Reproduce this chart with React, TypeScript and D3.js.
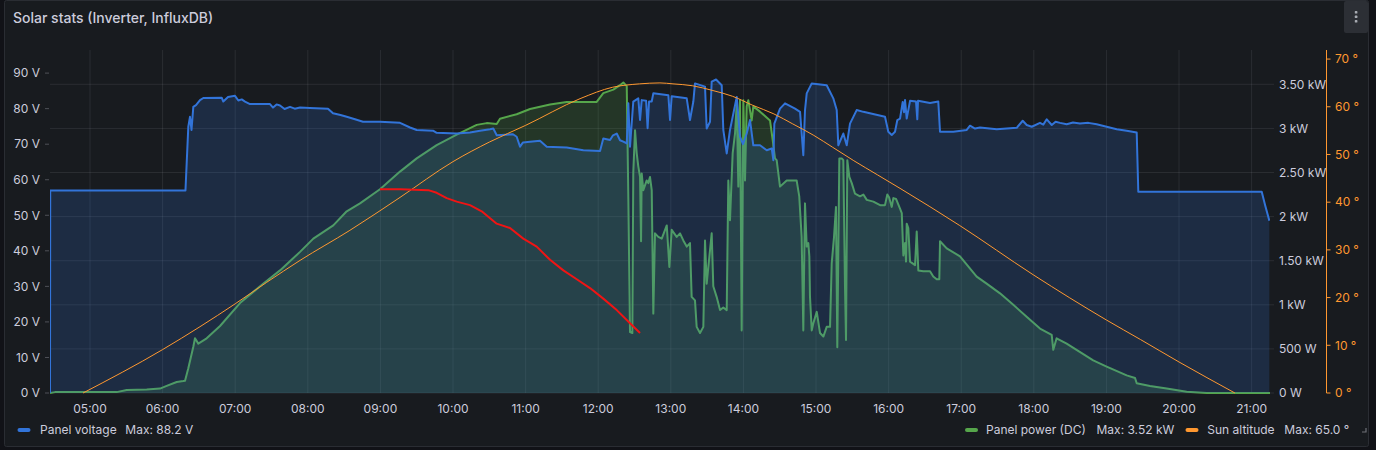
import React, { useEffect } from "react";
import * as d3 from "d3";

// [hour of day, volts]
const panelVoltage: [number, number][] = [
  [4.449, 0], [4.452, 57.0], [6.315, 57.0], [6.354, 74.9], [6.377, 77.7], [6.398, 74.0], [6.423, 80.5],
  [6.46, 81.0], [6.515, 82.4], [6.561, 83.0], [6.814, 83.1], [6.836, 82.0], [6.901, 83.3], [6.997, 83.6],
  [7.043, 82.3], [7.09, 82.6], [7.135, 82.0], [7.204, 81.3], [7.479, 81.3], [7.521, 80.3], [7.57, 81.2], [7.617, 80.9],
  [7.68, 79.9], [7.755, 80.5], [7.82, 80.0], [7.893, 80.3], [8.03, 80.2], [8.278, 80.0], [8.347, 78.7], [8.45, 78.2],
  [8.536, 77.7], [8.65, 77.0], [8.76, 76.3], [8.994, 76.3], [9.27, 76.0], [9.408, 74.7], [9.5, 74.0], [9.725, 73.8],
  [9.775, 73.2], [10.051, 73.0], [10.234, 73.3], [10.372, 73.8], [10.51, 74.2], [10.555, 74.4], [10.602, 72.5],
  [10.826, 72.8], [10.877, 72.1],
  [10.923, 69.3], [10.964, 70.5], [11.061, 70.7], [11.198, 71.0], [11.291, 69.3], [11.566, 69.1], [11.795, 68.3],
  [12.025, 68.1], [12.07, 71.6], [12.163, 71.2], [12.204, 72.5], [12.255, 73.0], [12.3, 71.1], [12.346, 70.7],
  [12.393, 70.2], [12.415, 81.5], [12.438, 69.3], [12.483, 82.0], [12.552, 82.9], [12.576, 76.8], [12.599, 82.4],
  [12.66, 82.2], [12.68, 74.5], [12.70, 82.0], [12.737, 82.0], [12.759, 84.3], [12.966, 83.8], [12.989, 76.8],
  [13.012, 83.5], [13.219, 82.9], [13.264, 76.8], [13.31, 82.0], [13.333, 87.1], [13.471, 86.2], [13.494, 74.4],
  [13.54, 76.3], [13.563, 87.6], [13.623, 88.2], [13.701, 86.6], [13.723, 74.0], [13.77, 67.4], [13.815, 74.0],
  [13.908, 83.3], [13.953, 72.1], [13.994, 70.0], [14.045, 73.0], [14.091, 76.8], [14.136, 69.7], [14.229, 69.7],
  [14.321, 68.3], [14.39, 68.8], [14.412, 65.5], [14.426, 75.8], [14.504, 80.0], [14.573, 81.5], [14.711, 80.0],
  [14.78, 79.1], [14.825, 66.9], [14.848, 79.5], [14.872, 84.3], [14.941, 87.1], [15.147, 86.6], [15.238, 82.9],
  [15.285, 79.6], [15.307, 69.7], [15.376, 73.0], [15.423, 69.7], [15.468, 75.8], [15.56, 79.6], [15.652, 79.1],
  [15.95, 77.7], [15.996, 73.5], [16.043, 72.6], [16.088, 73.5], [16.12, 76.8], [16.157, 77.2], [16.194, 81.9],
  [16.212, 79.0], [16.226, 82.4], [16.249, 77.2], [16.295, 82.2], [16.377, 82.0], [16.395, 77.0], [16.405, 82.2],
  [16.57, 81.6], [16.684, 82.0], [16.708, 73.5], [16.891, 73.5], [17.076, 74.0], [17.121, 75.2], [17.19, 74.4],
  [17.259, 74.7], [17.489, 74.2], [17.764, 74.6], [17.847, 76.6], [17.902, 75.4], [17.971, 74.9], [18.085, 76.0],
  [18.13, 75.5], [18.178, 77.0], [18.247, 75.4], [18.3, 76.3], [18.361, 76.0], [18.453, 75.6], [18.54, 76.1],
  [18.636, 75.8], [18.751, 76.0], [18.866, 75.6],
  [19.004, 74.9], [19.142, 74.2], [19.279, 73.8], [19.417, 73.3], [19.439, 56.6], [21.139, 56.6], [21.185, 52.9],
  [21.244, 48.5],
];

// [hour of day, kW]
const panelPower: [number, number][] = [
  [4.449, 0], [4.518, 0.01], [4.904, 0.01], [5.368, 0.01], [5.506, 0.035], [5.781, 0.04], [5.964, 0.05],
  [6.056, 0.08], [6.194, 0.125], [6.285, 0.136], [6.309, 0.14], [6.354, 0.28], [6.423, 0.525], [6.446, 0.62],
  [6.492, 0.56], [6.607, 0.62], [6.791, 0.76], [7.066, 1.02], [7.342, 1.21], [7.617, 1.39], [7.893, 1.6],
  [8.076, 1.75], [8.351, 1.9], [8.536, 2.06], [8.719, 2.15], [8.994, 2.31], [9.27, 2.51], [9.5, 2.66],
  [9.775, 2.81], [10.051, 2.93], [10.326, 3.04], [10.464, 3.06], [10.602, 3.05], [10.647, 3.11], [10.877, 3.16],
  [11.061, 3.22], [11.336, 3.27], [11.566, 3.3], [11.979, 3.3], [12.07, 3.4], [12.208, 3.44], [12.3, 3.49],
  [12.346, 3.52], [12.393, 3.48], [12.415, 2.2], [12.438, 0.69], [12.47, 0.68], [12.483, 2.5], [12.507, 2.98],
  [12.53, 2.72], [12.552, 2.57], [12.576, 2.45], [12.59, 1.72], [12.599, 2.49], [12.621, 2.3], [12.668, 2.41],
  [12.69, 2.38], [12.713, 2.45], [12.737, 2.3], [12.759, 0.9], [12.782, 1.81], [12.828, 1.77], [12.875, 1.75],
  [12.944, 1.9], [12.98, 1.43], [13.012, 1.85], [13.081, 1.77], [13.127, 1.81], [13.172, 1.73], [13.219, 1.66],
  [13.264, 1.7], [13.287, 1.09], [13.333, 1.05], [13.356, 0.75], [13.402, 0.68], [13.448, 0.75], [13.471, 1.73],
  [13.494, 1.24], [13.54, 1.62], [13.563, 1.81], [13.585, 1.21], [13.631, 1.09], [13.678, 0.94], [13.723, 0.97],
  [13.77, 0.94], [13.792, 2.41], [13.815, 1.96], [13.852, 2.72], [13.884, 2.94], [13.908, 3.28], [13.93, 2.34],
  [13.953, 3.32], [13.976, 0.71], [13.999, 3.32], [14.022, 2.41], [14.045, 3.25], [14.067, 3.32], [14.114, 3.09],
  [14.136, 3.25], [14.229, 3.19], [14.366, 3.09], [14.403, 2.87], [14.435, 2.66], [14.458, 2.64], [14.504, 2.34],
  [14.596, 2.41], [14.733, 2.41], [14.769, 2.23], [14.802, 1.77], [14.825, 0.71], [14.848, 2.15], [14.872, 1.66],
  [14.894, 1.7], [14.908, 1.55], [14.917, 1.09], [14.941, 0.71], [14.963, 0.79], [15.01, 0.92], [15.055, 0.68],
  [15.101, 0.64], [15.147, 0.75], [15.193, 0.75], [15.216, 1.47], [15.248, 1.77], [15.275, 2.11], [15.293, 0.52],
  [15.321, 2.66], [15.354, 2.66], [15.376, 2.64], [15.399, 1.21], [15.413, 0.6], [15.431, 2.64], [15.459, 2.45],
  [15.492, 2.38], [15.537, 2.26], [15.606, 2.23], [15.652, 2.25], [15.699, 2.19], [15.79, 2.17], [15.882, 2.13],
  [15.95, 2.13], [15.982, 2.25], [16.006, 2.22], [16.043, 2.11], [16.065, 2.21], [16.102, 2.2], [16.157, 2.09],
  [16.181, 2.04], [16.203, 1.56], [16.226, 1.7], [16.24, 1.49], [16.249, 1.92], [16.271, 1.87], [16.295, 1.49],
  [16.364, 1.45], [16.387, 1.83], [16.409, 1.39], [16.478, 1.38], [16.57, 1.38], [16.615, 1.32], [16.662, 1.29],
  [16.698, 1.29], [16.708, 1.72], [16.8, 1.64], [16.983, 1.55], [17.213, 1.32], [17.35, 1.24], [17.534, 1.13],
  [17.717, 1.0], [17.901, 0.865], [18.085, 0.73], [18.246, 0.66], [18.268, 0.49], [18.314, 0.62], [18.452, 0.56],
  [18.818, 0.37], [19.003, 0.3], [19.279, 0.2], [19.394, 0.17], [19.417, 0.11], [19.6, 0.08], [19.83, 0.05],
  [20.105, 0.015], [20.381, 0], [21.253, 0],
];

// [hour of day, degrees]
const sunAltitude: [number, number][] = [
  [4.904, 0], [6.0, 9.1], [6.515, 13.9], [7.0, 18.7], [7.434, 23.2], [7.893, 27.8], [8.58, 34.1], [9.27, 41.0],
  [10.0, 48.5], [10.5, 52.6], [11.0, 56.1], [11.75, 61.7], [12.2, 64.1], [12.57, 64.8], [12.85, 65.0],
  [13.03, 64.8], [13.3, 64.4], [13.58, 63.4], [13.85, 62.2], [14.13, 60.3], [14.42, 58.5], [14.68, 56.4],
  [14.97, 54.0], [15.23, 51.5], [15.52, 48.7], [15.85, 45.7], [16.157, 42.9], [16.98, 35.1], [17.99, 24.8],
  [19.0, 15.3], [19.47, 11.2], [20.0, 6.5], [20.77, 0],
];

// [hour of day, kW] (unlabelled red trace)
const powerTrace: [number, number][] = [
  [8.994, 2.31], [9.27, 2.31], [9.66, 2.3], [9.775, 2.27], [9.913, 2.21], [10.051, 2.17], [10.234, 2.13],
  [10.395, 2.06], [10.602, 1.92], [10.785, 1.87], [10.968, 1.75], [11.153, 1.66], [11.336, 1.51], [11.52, 1.39],
  [11.704, 1.29], [11.887, 1.19], [12.07, 1.07], [12.255, 0.94], [12.438, 0.79], [12.576, 0.68],
];

const timeDomain: [number, number] = [4.449, 21.253];
const voltageTicks = [0, 10, 20, 30, 40, 50, 60, 70, 80, 90];
const powerTicks = [0, 0.5, 1, 1.5, 2, 2.5, 3, 3.5];
const powerTickLabels = ["0 W", "500 W", "1 kW", "1.50 kW", "2 kW", "2.50 kW", "3 kW", "3.50 kW"];
const altitudeTicks = [0, 10, 20, 30, 40, 50, 60, 70];
const seriesNames = ["Panel voltage", "Panel power (DC)", "Sun altitude"];
const title = "Solar stats (Inverter, InfluxDB)";

const W = 1376;
const H = 450;
const P = { left: 50, right: 1270, top: 50, bottom: 393 };
const FONT = "Inter, 'Noto Sans', sans-serif";
const TEXT = "#ccccdc";
const BLUE = "#3274d9";
const GREEN = "#56a64b";
const ORANGE = "#ff9830";
const RED = "#f01414";

const base = new Date(2024, 5, 21, 0, 0, 0).getTime();
const toDate = (h: number) => new Date(base + h * 3600000);

export default function App() {
  useEffect(() => {
    document.body.style.margin = "0";
    document.body.style.background = "#111217";
  }, []);

  const x = d3.scaleTime().domain(timeDomain.map(toDate)).range([P.left, P.right]);
  const yV = d3.scaleLinear().domain([0, 96.5]).range([P.bottom, P.top]);
  const yP = d3.scaleLinear().domain([0, 3.889]).range([P.bottom, P.top]);
  const yA = d3.scaleLinear().domain([0, 71.9]).range([P.bottom, P.top]);

  const xs = (d: [number, number]) => x(toDate(d[0]));
  const areaV = d3.area<[number, number]>().x(xs).y0(P.bottom).y1((d) => yV(d[1]));
  const lineV = d3.line<[number, number]>().x(xs).y((d) => yV(d[1]));
  const areaP = d3.area<[number, number]>().x(xs).y0(P.bottom).y1((d) => yP(d[1]));
  const lineP = d3.line<[number, number]>().x(xs).y((d) => yP(d[1]));
  const lineA = d3.line<[number, number]>().x(xs).y((d) => yA(d[1])).curve(d3.curveMonotoneX);
  const lineR = d3.line<[number, number]>().x(xs).y((d) => yP(d[1]));

  const timeTicks = x.ticks(d3.timeHour.every(1) as any);
  const fmtTime = d3.timeFormat("%H:%M");

  const maxV = d3.max(panelVoltage, (d) => d[1]) as number;
  const maxP = d3.max(panelPower, (d) => d[1]) as number;
  const maxA = d3.max(sunAltitude, (d) => d[1]) as number;

  const axisX2 = 1326.5;

  return (
    <svg width={W} height={H} style={{ position: "absolute", left: 0, top: 0, display: "block" }} fontFamily={FONT}>
      <rect x={0} y={0} width={W} height={H} fill="#111217" />
      <rect x={4.5} y={0.5} width={1364} height={446} rx={2} fill="#181b1f" stroke="#2a2d33" />
      <text x={13} y={22.5} fontSize={14} fontWeight={500} fill={TEXT}>{title}</text>

      {/* menu button */}
      <rect x={1344} y={1} width={24} height={32} rx={2} fill="#2c2f35" />
      {[12.3, 16.8, 21.3].map((cy) => (
        <rect key={cy} x={1354.8} y={cy - 1.2} width={2.6} height={2.4} rx={0.6} fill="#a7abb2" />
      ))}

      <defs>
        <clipPath id="plotclip">
          <rect x={P.left} y={P.top - 2} width={P.right - P.left} height={P.bottom - P.top + 4} />
        </clipPath>
      </defs>

      {/* grid */}
      {timeTicks.map((t, i) => (
        <line key={"gx" + i} x1={x(t)} x2={x(t)} y1={P.top} y2={P.bottom} stroke="rgba(204,204,220,0.1)" />
      ))}
      {powerTicks.map((v, i) => (
        <line key={"gy" + i} x1={P.left} x2={P.right + 4} y1={yP(v)} y2={yP(v)} stroke="rgba(204,204,220,0.1)" />
      ))}

      <g clipPath="url(#plotclip)">
        <path d={areaP(panelPower) as string} fill={GREEN} fillOpacity={0.2} />
        <path d={lineP(panelPower) as string} fill="none" stroke={GREEN} strokeWidth={2} strokeLinejoin="round" />
        <path d={areaV(panelVoltage) as string} fill={BLUE} fillOpacity={0.2} />
        <path d={lineV(panelVoltage) as string} fill="none" stroke={BLUE} strokeWidth={2} strokeLinejoin="round" />
        <path d={lineA(sunAltitude) as string} fill="none" stroke={ORANGE} strokeWidth={1} />
        <path d={lineR(powerTrace) as string} fill="none" stroke={RED} strokeWidth={2} strokeLinejoin="round" />
      </g>

      {/* left axis: voltage */}
      {voltageTicks.map((v) => (
        <g key={"v" + v}>
          <line x1={45} x2={49} y1={yV(v)} y2={yV(v)} stroke="rgba(204,204,220,0.3)" />
          <text x={40} y={yV(v) + 4.3} fontSize={12} fill={TEXT} textAnchor="end">{`${v} V`}</text>
        </g>
      ))}

      {/* right axis: power */}
      {powerTicks.map((v, i) => (
        <text key={"p" + v} x={1279} y={yP(v) + 4.3} fontSize={12} fill={TEXT}>{powerTickLabels[i]}</text>
      ))}

      {/* right axis: sun altitude */}
      <line x1={axisX2} x2={axisX2} y1={P.top} y2={P.bottom} stroke={ORANGE} />
      {altitudeTicks.map((v) => (
        <g key={"a" + v}>
          <line x1={axisX2} x2={axisX2 + 4} y1={yA(v)} y2={yA(v)} stroke={ORANGE} />
          <text x={1335} y={yA(v) + 4.3} fontSize={12} fill={ORANGE}>{`${v} °`}</text>
        </g>
      ))}

      {/* bottom axis */}
      {timeTicks.map((t, i) => (
        <text key={"t" + i} x={x(t)} y={412.5} fontSize={12} fill={TEXT} textAnchor="middle">{fmtTime(t)}</text>
      ))}

      {/* legend */}
      <rect x={17.5} y={428} width={13} height={4} rx={2} fill={BLUE} />
      <text x={40} y={434} fontSize={12} fill={TEXT}>{seriesNames[0]}</text>
      <text x={125.3} y={434} fontSize={12} fill={TEXT}>{`Max: ${d3.format(".1f")(maxV)} V`}</text>

      <rect x={965} y={428} width={13} height={4} rx={2} fill={GREEN} />
      <text x={986} y={434} fontSize={12} fill={TEXT}>{seriesNames[1]}</text>
      <text x={1096.5} y={434} fontSize={12} fill={TEXT}>{`Max: ${d3.format(".2f")(maxP)} kW`}</text>

      <rect x={1185.5} y={428} width={13} height={4} rx={2} fill={ORANGE} />
      <text x={1207.3} y={434} fontSize={12} fill={TEXT}>{seriesNames[2]}</text>
      <text x={1284.3} y={434} fontSize={12} fill={TEXT}>{`Max: ${d3.format(".1f")(maxA)} °`}</text>

      {/* resize handle */}
      <path d="M1366 428 L1366 432 L1362 432" fill="none" stroke="#6e7177" strokeWidth={1.2} />
    </svg>
  );
}
